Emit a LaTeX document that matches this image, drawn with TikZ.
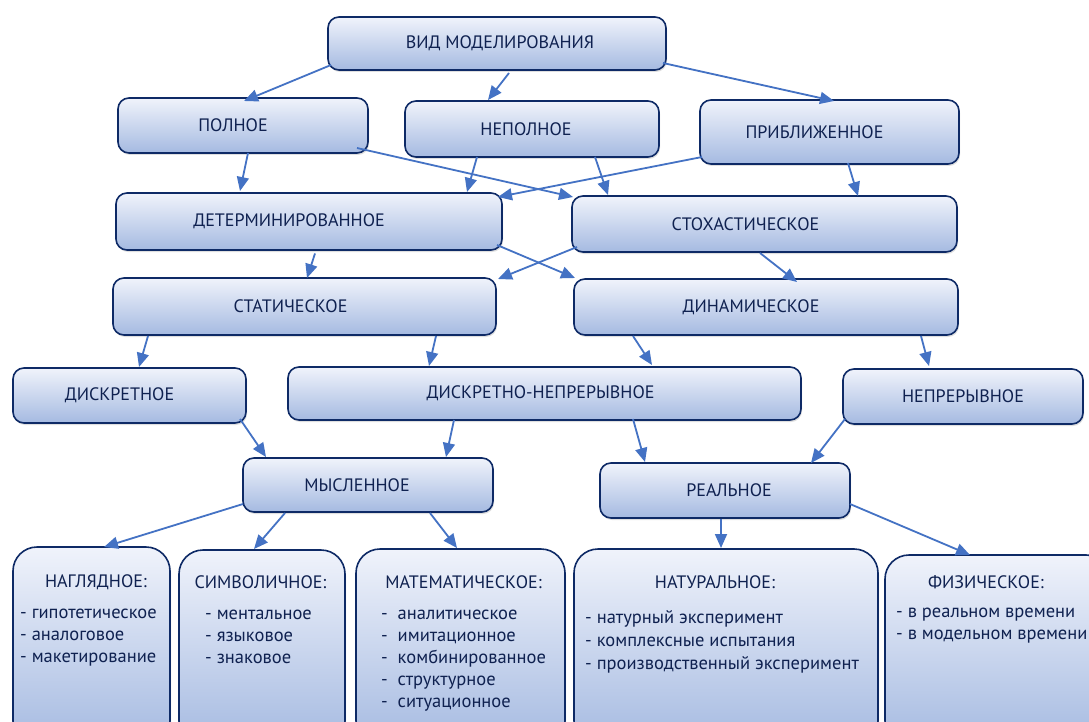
\documentclass[tikz,border=0pt]{standalone}
\usepackage{fontspec}
\setmainfont{PT Sans}
\usetikzlibrary{arrows.meta,shadows,calc}
\definecolor{edgec}{HTML}{0E2A66}
\definecolor{ftop}{HTML}{F0F3FB}
\definecolor{fbot}{HTML}{A5BAE1}
\definecolor{arrc}{HTML}{4472C4}
\definecolor{txtc}{HTML}{0F2150}
\newcommand{\sh}[2]{\hspace*{#1}#2}
\tikzset{
  box/.style={draw=edgec, line width=1.6pt, rounded corners=11pt,
    top color=ftop, bottom color=fbot, inner sep=0pt, text=txtc,
    font=\fontsize{18}{21}\selectfont,
    drop shadow={shadow xshift=1pt, shadow yshift=-2pt, opacity=0.25}},
  bigbox/.style={box, rounded corners=24pt},
  conn/.style={draw=arrc, line width=1.8pt, -{Triangle[length=14pt,width=12pt]}},
  head/.style={text=txtc, font=\fontsize{18}{21}\selectfont, inner sep=0pt},
  items/.style={text=txtc, font=\fontsize{18.5}{22}\selectfont, inner sep=0pt, align=left, anchor=north west},
}
\begin{document}
\begin{tikzpicture}[x=1pt,y=-1pt]
\useasboundingbox (0,0) rectangle (1089,722);
\clip (0,0) rectangle (1089,722);
\fill[white] (0,0) rectangle (1089,722);
% boxes
\node[box, minimum width=338, minimum height=53] (vid) at (497,43.5) {\sh{6pt}{ВИД МОДЕЛИРОВАНИЯ}};
\node[box, minimum width=250, minimum height=55] (pol) at (243,125.5) {\sh{-20pt}{ПОЛНОЕ}};
\node[box, minimum width=254, minimum height=56] (nep) at (532,129) {\sh{-12pt}{НЕПОЛНОЕ}};
\node[box, minimum width=259, minimum height=64] (pri) at (829.5,132) {\sh{-30pt}{ПРИБЛИЖЕННОЕ}};
\node[box, minimum width=386, minimum height=57] (det) at (309,221.5) {\sh{-40pt}{ДЕТЕРМИНИРОВАННОЕ}};
\node[box, minimum width=385, minimum height=56] (sto) at (764.5,224) {\sh{-38pt}{СТОХАСТИЧЕСКОЕ}};
\node[box, minimum width=383, minimum height=57] (sta) at (304.5,306.5) {\sh{-28pt}{СТАТИЧЕСКОЕ}};
\node[box, minimum width=384, minimum height=56] (din) at (766,307) {\sh{-30pt}{ДИНАМИЧЕСКОЕ}};
\node[box, minimum width=233, minimum height=55] (dis) at (129.5,395.5) {\sh{-20pt}{ДИСКРЕТНОЕ}};
\node[box, minimum width=513, minimum height=53] (dn) at (544.5,393.5) {\sh{-8pt}{ДИСКРЕТНО-НЕПРЕРЫВНОЕ}};
\node[box, minimum width=240, minimum height=55] (nepr) at (963,396.5) {НЕПРЕРЫВНОЕ};
\node[box, minimum width=250, minimum height=54] (mys) at (368,485) {\sh{-22pt}{МЫСЛЕННОЕ}};
\node[box, minimum width=250, minimum height=55] (rea) at (725,490.5) {\sh{8pt}{РЕАЛЬНОЕ}};
\node[bigbox, minimum width=157, minimum height=198] (nag) at (91.5,646) {};
\node[bigbox, minimum width=166, minimum height=195] (sim) at (262,647.5) {};
\node[bigbox, minimum width=209, minimum height=196] (mat) at (460.5,647) {};
\node[bigbox, minimum width=304, minimum height=196] (nat) at (726,647) {};
\node[bigbox, minimum width=225, minimum height=190] (fiz) at (997.5,650) {};
% texts of bottom boxes
\node[head] (nagh) at (96,582) {НАГЛЯДНОЕ:};
\node[items] (nagi) at (20,609) {- гипотетическое\\- аналоговое\\- макетирование};
\node[head] (simh) at (260.5,582) {СИМВОЛИЧНОЕ:};
\node[items] (simi) at (205,610) {- ментальное\\- языковое\\- знаковое};
\node[head] (math) at (463.5,582) {МАТЕМАТИЧЕСКОЕ:};
\node[items] (mati) at (381,610) {-\ \ аналитическое\\-\ \ имитационное\\-\ \ комбинированное\\-\ \ структурное\\-\ \ ситуационное};
\node[head] (nath) at (715,582) {НАТУРАЛЬНОЕ:};
\node[items, font=\fontsize{18.5}{23}\selectfont] (nati) at (585,610) {- натурный эксперимент\\- комплексные испытания\\- производственный эксперимент};
\node[head] (fizh) at (986,582) {ФИЗИЧЕСКОЕ:};
\node[items] (fizi) at (896,608) {- в реальном времени\\- в модельном времени};
% connectors
\draw[conn] ($(vid.center)+(-166,21.5)$) -- ($(pol.center)+(1,-24.5)$);
\draw[conn] ($(vid.center)+(12,29.5)$) -- ($(nep.center)+(-44,-29)$);
\draw[conn] ($(vid.center)+(166,19.5)$) -- ($(pri.center)+(4.5,-31)$);
\draw[conn] ($(pol.center)+(5,27.5)$) -- ($(det.center)+(-69,-30.5)$);
\draw[conn] ($(pol.center)+(114,22.5)$) -- ($(sto.center)+(-191.5,-27)$);
\draw[conn] ($(nep.center)+(-55,28)$) -- ($(det.center)+(158,-29.5)$);
\draw[conn] ($(nep.center)+(63,28)$) -- ($(sto.center)+(-156.5,-29)$);
\draw[conn] ($(pri.center)+(-127.5,25)$) -- ($(det.center)+(189,-24.5)$);
\draw[conn] ($(pri.center)+(18.5,31)$) -- ($(sto.center)+(93.5,-28)$);
\draw[conn] ($(det.center)+(6,32)$) -- ($(sta.center)+(2.5,-28.5)$);
\draw[conn] ($(det.center)+(188,23.5)$) -- ($(din.center)+(-191,-29)$);
\draw[conn] ($(sto.center)+(-187.5,23)$) -- ($(sta.center)+(193.5,-27.5)$);
\draw[conn] ($(sto.center)+(-4.5,29)$) -- ($(din.center)+(31,-25)$);
\draw[conn] ($(sta.center)+(-156.5,29.5)$) -- ($(dis.center)+(9.5,-28.5)$);
\draw[conn] ($(sta.center)+(131.5,29.5)$) -- ($(dn.center)+(-115.5,-27.5)$);
\draw[conn] ($(din.center)+(-133,29)$) -- ($(dn.center)+(107.5,-28.5)$);
\draw[conn] ($(din.center)+(155,29)$) -- ($(nepr.center)+(-34,-30.5)$);
\draw[conn] ($(dis.center)+(110.5,23.5)$) -- ($(mys.center)+(-102,-28)$);
\draw[conn] ($(dn.center)+(-90.5,26.5)$) -- ($(mys.center)+(78,-28)$);
\draw[conn] ($(dn.center)+(88.5,25.5)$) -- ($(rea.center)+(-80,-28.5)$);
\draw[conn] ($(nepr.center)+(-118,22.5)$) -- ($(rea.center)+(86,-27.5)$);
\draw[conn] ($(mys.center)+(-125,19)$) -- ($(nag.center)+(12.5,-99)$);
\draw[conn] ($(mys.center)+(-83,28)$) -- ($(sim.center)+(-8,-98.5)$);
\draw[conn] ($(mys.center)+(62,28)$) -- ($(mat.center)+(-3.5,-99)$);
\draw[conn] ($(rea.center)+(-4,28.5)$) -- ($(nat.center)+(-5,-99)$);
\draw[conn] ($(rea.center)+(125,13.5)$) -- ($(fiz.center)+(-27.5,-95)$);
\end{tikzpicture}
\end{document}
